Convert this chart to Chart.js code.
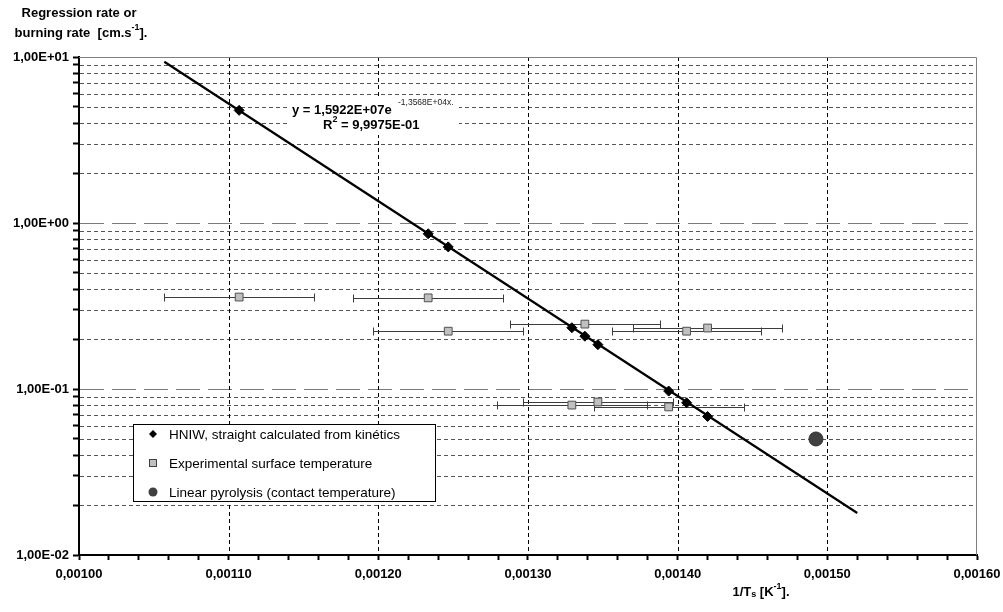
<!DOCTYPE html>
<html><head><meta charset="utf-8">
<script src="https://cdn.jsdelivr.net/npm/chart.js@4/dist/chart.umd.min.js"></script>
<style>html,body{margin:0;padding:0;background:#fff;}#wrap{width:1003px;height:612px;}</style>
</head><body><div id="wrap"><canvas id="c" width="1003" height="612"></canvas></div>
<script>
// ---- data ----
const hniwX = [0.001107, 0.0012333, 0.0012467, 0.0013293, 0.001338, 0.0013467, 0.001394, 0.001406, 0.00142];
const hniwY = [4.77, 0.861, 0.718, 0.234, 0.208, 0.185, 0.0972, 0.0826, 0.0683];
const fitX = [0.001057, 0.00152];
const fitY = [9.36, 0.0179];
const expX = [0.001107, 0.0012333, 0.0012467, 0.001338, 0.001406, 0.00142, 0.0013293, 0.0013467, 0.001394];
const expY = [0.358, 0.354, 0.223, 0.246, 0.223, 0.233, 0.080, 0.0835, 0.078];
const expErr = [0.00005, 0.00005, 0.00005, 0.00005, 0.00005, 0.00005, 0.00005, 0.00005, 0.00005];
const pyroX = [0.0014924];
const pyroY = [0.050];
const xMajorTicks = [0.00100, 0.00110, 0.00120, 0.00130, 0.00140, 0.00150, 0.00160];
const yMajorTicks = [0.01, 0.1, 1, 10];
const legendLabels = ['HNIW, straight calculated from kinétics', 'Experimental surface temperature', 'Linear pyrolysis (contact temperature)'];
const eqMain = 'y = 1,5922E+07e';
const eqExp = '-1,3568E+04x.';
const r2Text = ' = 9,9975E-01';

const FONT = '"Liberation Sans", Arial, sans-serif';

function pts(xs, ys){ return xs.map((x,i)=>({x:x, y:ys[i]})); }

function fmtY(v){
  const e = Math.round(Math.log10(v));
  const m = v / Math.pow(10, e);
  return m.toFixed(2).replace('.', ',') + 'E' + (e < 0 ? '-' : '+') + String(Math.abs(e)).padStart(2, '0');
}
function isMajorX(v){ return xMajorTicks.some(t => Math.abs(t - v) < 1e-9); }
function isMajorY(v){ return yMajorTicks.some(t => Math.abs(Math.log10(t) - Math.log10(v)) < 1e-6); }

const xAllTicks = [];
for (let i = 0; i < xMajorTicks.length - 1; i++) {
  const a = xMajorTicks[i], b = xMajorTicks[i+1];
  for (let k = 0; k < 5; k++) xAllTicks.push(a + (b - a) * k / 5);
}
xAllTicks.push(xMajorTicks[xMajorTicks.length-1]);
const yAllTicks = [];
for (let i = 0; i < yMajorTicks.length - 1; i++) {
  for (let k = 1; k <= 9; k++) yAllTicks.push(yMajorTicks[i] * k);
}
yAllTicks.push(yMajorTicks[yMajorTicks.length-1]);

function segWidth(ctx, segs){ let w=0; segs.forEach(s=>{ctx.font=s.font; w+=ctx.measureText(s.t).width;}); return w; }
function drawSegs(ctx, segs, x, y){
  let cx = x;
  segs.forEach(s=>{ ctx.font = s.font; ctx.fillText(s.t, cx, y + (s.dy||0)); cx += ctx.measureText(s.t).width; });
}

const B13 = 'bold 13px ' + FONT;
const R13 = '13.5px ' + FONT;
const B9 = 'bold 9px ' + FONT;
const R8 = '8.5px ' + FONT;

const backPlugin = {
  id: 'back',
  beforeDatasetsDraw(chart){
    const ctx = chart.ctx, xs = chart.scales.x, ys = chart.scales.y, a = chart.chartArea;
    ctx.save();
    yAllTicks.forEach(v=>{
      if (Math.abs(v - yMajorTicks[yMajorTicks.length-1]) < 1e-9 || Math.abs(v - yMajorTicks[0]) < 1e-12) return;
      const py = Math.round(ys.getPixelForValue(v)) + 0.5;
      ctx.beginPath();
      if (isMajorY(v)) { ctx.setLineDash([24, 8]); ctx.strokeStyle = '#7a7a7a'; }
      else { ctx.setLineDash([4, 3]); ctx.strokeStyle = '#555555'; }
      ctx.lineWidth = 1;
      ctx.moveTo(a.left + 1, py); ctx.lineTo(a.right, py); ctx.stroke();
    });
    xMajorTicks.forEach(v=>{
      if (v <= xMajorTicks[0] + 1e-9 || v >= xMajorTicks[xMajorTicks.length-1] - 1e-9) return;
      const px = Math.round(xs.getPixelForValue(v)) + 0.5;
      ctx.beginPath(); ctx.setLineDash([4, 3]); ctx.strokeStyle = '#000'; ctx.lineWidth = 1;
      ctx.moveTo(px, a.top); ctx.lineTo(px, a.bottom); ctx.stroke();
    });
    ctx.setLineDash([]); ctx.strokeStyle = '#808080'; ctx.lineWidth = 1;
    ctx.beginPath(); ctx.moveTo(a.left, a.top + 0.5); ctx.lineTo(a.right - 0.5, a.top + 0.5); ctx.lineTo(a.right - 0.5, a.bottom); ctx.stroke();
    ctx.strokeStyle = '#3c3c3c'; ctx.lineWidth = 1;
    expX.forEach((x,i)=>{
      const p1 = Math.round(xs.getPixelForValue(x - expErr[i])) + 0.5;
      const p2 = Math.round(xs.getPixelForValue(x + expErr[i])) + 0.5;
      const py = Math.round(ys.getPixelForValue(expY[i])) + 0.5;
      ctx.beginPath();
      ctx.moveTo(p1, py); ctx.lineTo(p2, py);
      ctx.moveTo(p1, py - 4); ctx.lineTo(p1, py + 4);
      ctx.moveTo(p2, py - 4); ctx.lineTo(p2, py + 4);
      ctx.stroke();
    });
    ctx.restore();
  },
  afterDraw(chart){
    const ctx = chart.ctx;
    ctx.save();
    ctx.textBaseline = 'middle'; ctx.textAlign = 'left';
    ctx.fillStyle = '#fff'; ctx.fillRect(287, 97, 172, 38);
    ctx.fillStyle = '#000';
    drawSegs(ctx, [{t:eqMain, font:B13}], 292, 110);
    ctx.fillStyle = '#222';
    drawSegs(ctx, [{t:eqExp, font:R8}], 398, 103);
    ctx.fillStyle = '#000';
    drawSegs(ctx, [{t:'R', font:B13},{t:'2', font:B9, dy:-5},{t:r2Text, font:B13}], 323, 125);
    // legend
    ctx.fillStyle = '#fff'; ctx.fillRect(133.5, 424.5, 302, 77);
    ctx.strokeStyle = '#000'; ctx.lineWidth = 1; ctx.strokeRect(133.5, 424.5, 302, 77);
    const ly = [434, 463, 492];
    ctx.fillStyle = '#000'; ctx.beginPath();
    ctx.moveTo(153, ly[0]-4); ctx.lineTo(157, ly[0]); ctx.lineTo(153, ly[0]+4); ctx.lineTo(149, ly[0]); ctx.closePath(); ctx.fill();
    ctx.fillStyle = '#c0c0c0'; ctx.fillRect(149.5, ly[1]-3.5, 7, 7);
    ctx.strokeStyle = '#404040'; ctx.strokeRect(149.5, ly[1]-3.5, 7, 7);
    ctx.fillStyle = '#404040'; ctx.beginPath(); ctx.arc(153, ly[2], 4.5, 0, Math.PI*2); ctx.fill();
    ctx.fillStyle = '#000';
    legendLabels.forEach((t,i)=>{ ctx.font = R13; ctx.fillText(t, 169, ly[i] + 1); });
    // axis titles
    let s1 = [{t:'Regression rate or', font:B13}];
    drawSegs(ctx, s1, 79 - segWidth(ctx, s1)/2, 13);
    let s2 = [{t:'burning rate  [cm.s', font:B13},{t:'-1', font:B9, dy:-5},{t:'].', font:B13}];
    drawSegs(ctx, s2, 81 - segWidth(ctx, s2)/2, 33);
    let s3 = [{t:'1/T', font:B13},{t:'s', font:B9, dy:3},{t:' [K', font:B13},{t:'-1', font:B9, dy:-5},{t:'].', font:B13}];
    drawSegs(ctx, s3, 761 - segWidth(ctx, s3)/2, 592);
    ctx.restore();
  }
};

new Chart(document.getElementById('c'), {
  type: 'scatter',
  data: {
    datasets: [
      { label: 'fit', type: 'line', data: pts(fitX, fitY), borderColor: '#000', borderWidth: 2.2, pointRadius: 0, fill: false, order: 4 },
      { label: legendLabels[0], data: pts(hniwX, hniwY), pointStyle: 'rectRot', pointRadius: 5, backgroundColor: '#000', borderColor: '#000', borderWidth: 1, order: 3 },
      { label: legendLabels[1], data: pts(expX, expY), pointStyle: 'rect', pointRadius: 5.5, backgroundColor: '#c0c0c0', borderColor: '#505050', borderWidth: 1, order: 2 },
      { label: legendLabels[2], data: pts(pyroX, pyroY), pointStyle: 'circle', pointRadius: 7, backgroundColor: '#404040', borderColor: '#303030', borderWidth: 1, order: 1 }
    ]
  },
  options: {
    responsive: false, animation: false, devicePixelRatio: 1,
    layout: { padding: { left: 0, top: 57, right: 26, bottom: 0 } },
    plugins: { legend: { display: false }, tooltip: { enabled: false } },
    scales: {
      x: {
        type: 'linear', min: xMajorTicks[0], max: xMajorTicks[xMajorTicks.length-1],
        afterBuildTicks: s => { s.ticks = xAllTicks.map(v => ({ value: v })); },
        afterFit: s => { s.height = 57; s.paddingLeft = 0; s.paddingRight = 0; },
        grid: { display: true, drawOnChartArea: false, drawTicks: true, tickLength: 5, tickWidth: 2, tickColor: '#000' },
        border: { display: true, color: '#000', width: 2 },
        ticks: { autoSkip: false, maxRotation: 0, padding: 7, color: '#000', font: { family: FONT, size: 13, weight: 'bold' },
          callback: v => isMajorX(v) ? v.toFixed(5).replace('.', ',') : '' }
      },
      y: {
        type: 'logarithmic', min: yMajorTicks[0], max: yMajorTicks[yMajorTicks.length-1],
        afterBuildTicks: s => { s.ticks = yAllTicks.map(v => ({ value: v })); },
        afterFit: s => { s.width = 79; s.paddingTop = 0; s.paddingBottom = 0; },
        grid: { display: true, drawOnChartArea: false, drawTicks: true, tickLength: 6, tickWidth: 2, tickColor: '#000' },
        border: { display: true, color: '#000', width: 2 },
        ticks: { autoSkip: false, padding: 4, color: '#000', font: { family: FONT, size: 13, weight: 'bold' },
          callback: v => isMajorY(v) ? fmtY(v) : '' }
      }
    }
  },
  plugins: [backPlugin]
});
</script></body></html>
